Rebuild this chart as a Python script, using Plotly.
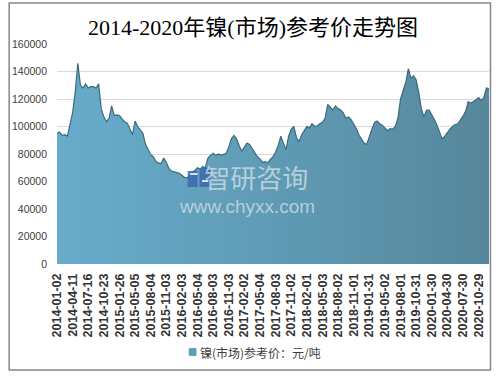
import plotly.graph_objects as go

# ---------------- data ----------------
tick_labels = [
    "2014-01-02", "2014-04-11", "2014-07-16", "2014-10-23", "2015-01-26",
    "2015-05-05", "2015-08-04", "2015-11-03", "2016-02-03", "2016-05-04",
    "2016-08-03", "2016-11-03", "2017-02-02", "2017-05-04", "2017-08-03",
    "2017-11-02", "2018-02-01", "2018-05-03", "2018-08-02", "2018-11-01",
    "2019-01-31", "2019-05-02", "2019-08-01", "2019-10-31", "2020-01-30",
    "2020-04-30", "2020-07-30", "2020-10-29",
]
samples_per_label = 6

price = [
    95000, 96000, 93500, 94000, 93000, 101000,
    110000, 125000, 146000, 130000, 128000, 131000,
    128000, 129000, 129000, 128000, 131000, 113000,
    107000, 103500, 106000, 115000, 108000, 108500,
    108000, 105500, 103500, 102500, 97500, 94000,
    104000, 100000, 97500, 95000, 87000, 83500,
    79500, 78000, 74500, 73500, 73000, 77000,
    74000, 69500, 67500, 67000, 66500, 66000,
    64500, 63000, 62500, 65000, 67000, 68000,
    70000, 69000, 71000, 70000, 77000, 79000,
    80500, 79000, 80000, 79000, 80000, 80500,
    85000, 91000, 93500, 91000, 86000, 82000,
    85000, 88000, 87000, 84000, 80500, 78000,
    76500, 74000, 74500, 73500, 76000, 78000,
    81500, 86000, 93000, 88000, 83000, 93000,
    98000, 100000, 92000, 89000, 94000, 97000,
    100000, 99000, 102000, 100000, 100500, 102000,
    103000, 106000, 116000, 114000, 112000, 115000,
    113000, 112000, 110000, 106000, 107000, 105000,
    102000, 98500, 94000, 90500, 88000, 87000,
    93000, 98000, 103000, 104000, 102000, 101000,
    99000, 97000, 98500, 98000, 100000, 106000,
    120000, 127000, 132000, 142000, 135000, 137000,
    134000, 125000, 113000, 107000, 112000, 112000,
    109000, 105000, 101000, 96000, 91000, 93000,
    96000, 98000, 100000, 101500, 102000, 104500,
    107500, 111000, 118000, 117000, 118000, 119500,
    121000, 119000, 121000, 128000, 127500,
]

title_text = "2014-2020年镍(市场)参考价走势图"
series_name = "镍(市场)参考价：元/吨"
y_ticks = [0, 20000, 40000, 60000, 80000, 100000, 120000, 140000, 160000]

# ---------------- layout helpers (pixel -> paper) ----------------
W, H = 501, 377
ML, MR, MT, MB = 51, 12, 44, 113
PW, PH = W - ML - MR, H - MT - MB


def px(xp):
    return (xp - ML) / PW


def py(yp):
    return (H - MB - yp) / PH


x_idx = list(range(len(price)))
tickvals = [k * samples_per_label for k in range(len(tick_labels))]

fig = go.Figure()
fig.add_trace(go.Scatter(
    x=x_idx, y=price, mode="lines", name=series_name,
    line=dict(color="#3b6a7f", width=1.2),
    fill="tozeroy",
    fillgradient=dict(type="horizontal",
                      colorscale=[[0, "#68acca"], [0.5, "#5f9bb5"], [1, "#56879b"]]),
    showlegend=False,
    hoverinfo="skip",
))

shapes = [
    # outer border
    dict(type="rect", xref="paper", yref="paper",
         x0=px(2.5), x1=px(490.5), y0=py(370), y1=py(3),
         line=dict(color="#868686", width=1.5), fillcolor="rgba(0,0,0,0)", layer="above"),
    # legend square
    dict(type="rect", xref="paper", yref="paper",
         x0=px(185), x1=px(192), y0=py(355.5), y1=py(348.5),
         line=dict(color="#4f8aa5", width=0.6), fillcolor="#609eba"),
    # watermark logo
    dict(type="rect", xref="paper", yref="paper",
         x0=px(183.5), x1=px(193.5), y0=py(187), y1=py(171),
         line=dict(width=0), fillcolor="rgba(60,105,175,0.85)", layer="above"),
    dict(type="rect", xref="paper", yref="paper",
         x0=px(195.5), x1=px(207), y0=py(187), y1=py(168),
         line=dict(width=0), fillcolor="rgba(60,105,175,0.85)", layer="above"),
    dict(type="rect", xref="paper", yref="paper",
         x0=px(186), x1=px(193.5), y0=py(175), y1=py(173),
         line=dict(width=0), fillcolor="rgba(255,255,255,0.8)", layer="above"),
    dict(type="rect", xref="paper", yref="paper",
         x0=px(198), x1=px(204.5), y0=py(182), y1=py(180),
         line=dict(width=0), fillcolor="rgba(255,255,255,0.8)", layer="above"),
]

wm_color = "rgba(200,216,228,0.85)"
annotations = [
    dict(text=title_text, xref="paper", yref="paper", x=px(250), y=py(28),
         xanchor="center", yanchor="middle", showarrow=False,
         font=dict(family="Liberation Serif, Noto Sans CJK SC", size=22, color="#000000")),
    dict(text=series_name, xref="paper", yref="paper", x=px(194), y=py(352),
         xanchor="left", yanchor="middle", showarrow=False,
         font=dict(family="Noto Sans CJK SC", size=12, color="#404040")),
    dict(text=("<span style='font-family:Noto Sans CJK SC;font-size:26px'>&nbsp;&nbsp;&nbsp;智研咨询</span><br>"
               "<span style='font-family:Liberation Sans;font-size:19px'>www.chyxx.com</span>"),
         xref="paper", yref="paper", x=px(244), y=py(187),
         xanchor="center", yanchor="middle", showarrow=False, align="center",
         font=dict(family="Liberation Sans", size=19, color=wm_color)),
]

fig.update_layout(
    width=W, height=H,
    margin=dict(l=ML, r=MR, t=MT, b=MB, pad=0),
    paper_bgcolor="white", plot_bgcolor="white",
    showlegend=False,
    shapes=shapes, annotations=annotations,
    xaxis=dict(range=[0, len(price) - 1], tickmode="array", tickvals=tickvals,
               ticktext=tick_labels, tickangle=-90, showgrid=False, zeroline=False,
               showline=False, ticks="", ticklabelstandoff=6,
               tickfont=dict(family="Liberation Sans", size=12.5, color="#333333", weight="bold")),
    yaxis=dict(range=[0, 160000], tickmode="array", tickvals=y_ticks,
               ticktext=[str(v) for v in y_ticks], showgrid=True, gridcolor="#d9d9d9",
               gridwidth=1, zeroline=False, showline=False, ticks="", ticklabelstandoff=9,
               tickfont=dict(family="Liberation Sans", size=10.5, color="#404040")),
)

fig.write_html("out.html", config={"displayModeBar": False},
               post_script="document.body.style.margin='0';document.body.style.overflow='hidden';")
